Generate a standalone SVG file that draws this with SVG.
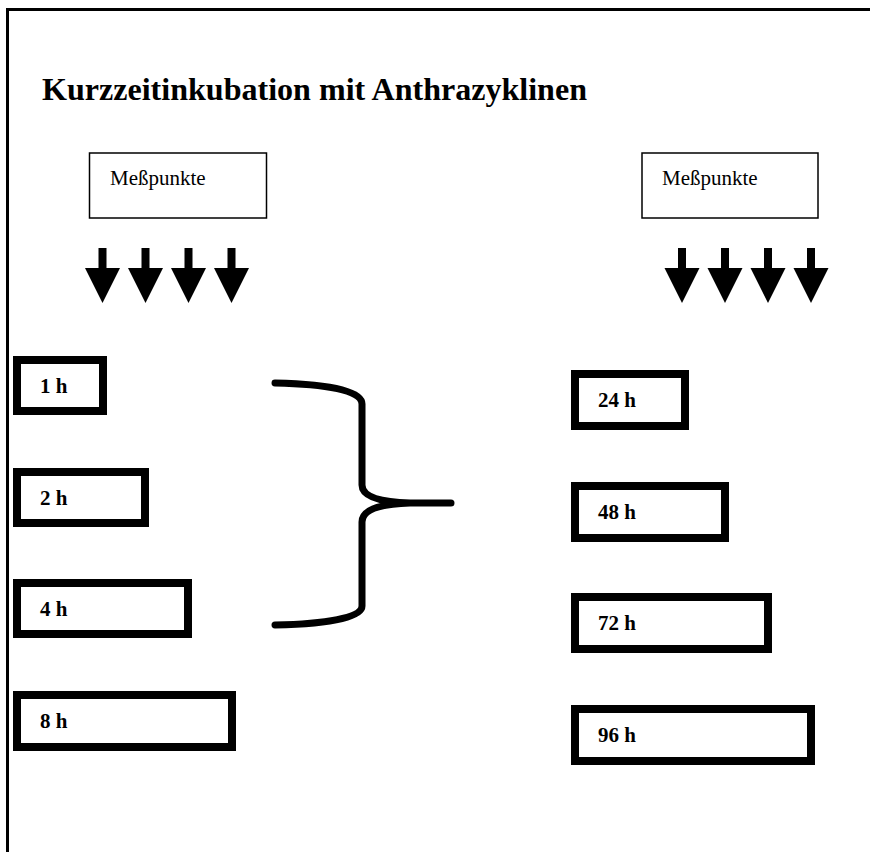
<svg xmlns="http://www.w3.org/2000/svg" width="870" height="852" viewBox="0 0 870 852">
<style>
.frame{fill:none;stroke:#000;stroke-width:3}
.mp{fill:#fff;stroke:#000;stroke-width:1.5}
.mpt{font-family:"Liberation Serif","Times New Roman",serif;font-size:21px;fill:#000}
.tb{fill:#fff;stroke:#000;stroke-width:8}
.tt{font-family:"Liberation Serif","Times New Roman",serif;font-size:21px;font-weight:bold;fill:#000}
.title{font-family:"Liberation Serif","Times New Roman",serif;font-size:31px;font-weight:bold;fill:#000}
.brace{fill:none;stroke:#000;stroke-width:7;stroke-linecap:round;stroke-linejoin:round}
</style>
<defs>
<path id="arr" d="M-4,0 L4,0 L4,20 L17.5,20 L0,55 L-17.5,20 L-4,20 Z" fill="#000"/>
</defs>
<rect width="870" height="852" fill="#fff"/>
<polyline class="frame" points="7.5,852 7.5,9.5 870,9.5"/>
<text class="title" x="42" y="100" textLength="545" lengthAdjust="spacingAndGlyphs">Kurzzeitinkubation mit Anthrazyklinen</text>

<g id="messpunkte-left">
<rect class="mp" x="89.5" y="153" width="177" height="65"/>
<text class="mpt" x="110" y="185">Meßpunkte</text>
</g>
<g id="messpunkte-right">
<rect class="mp" x="642" y="153" width="176" height="65"/>
<text class="mpt" x="662" y="185">Meßpunkte</text>
</g>

<g id="arrows-left">
<use href="#arr" x="102.5" y="248"/>
<use href="#arr" x="145.5" y="248"/>
<use href="#arr" x="188.5" y="248"/>
<use href="#arr" x="231.5" y="248"/>
</g>
<g id="arrows-right">
<use href="#arr" x="682" y="248"/>
<use href="#arr" x="725" y="248"/>
<use href="#arr" x="768" y="248"/>
<use href="#arr" x="811" y="248"/>
</g>

<g id="box-1h"><rect class="tb" x="17" y="360" width="86" height="51"/><text class="tt" x="40" y="393">1 h</text></g>
<g id="box-2h"><rect class="tb" x="17" y="472" width="128" height="51"/><text class="tt" x="40" y="505">2 h</text></g>
<g id="box-4h"><rect class="tb" x="17" y="583" width="171" height="51"/><text class="tt" x="40" y="616">4 h</text></g>
<g id="box-8h"><rect class="tb" x="17" y="695" width="215" height="52"/><text class="tt" x="40" y="728">8 h</text></g>

<g id="box-24h"><rect class="tb" x="575" y="374" width="110" height="52"/><text class="tt" x="598" y="407">24 h</text></g>
<g id="box-48h"><rect class="tb" x="575" y="486" width="150" height="52"/><text class="tt" x="598" y="519">48 h</text></g>
<g id="box-72h"><rect class="tb" x="575" y="597" width="193" height="52"/><text class="tt" x="598" y="630">72 h</text></g>
<g id="box-96h"><rect class="tb" x="575" y="709" width="236" height="52"/><text class="tt" x="598" y="742">96 h</text></g>

<g id="connectors">
<path class="brace" d="M275,383 C325,384 362,390 362,404 L362,485 C362,496 378,502 410,503 L451,503 L410,503 C378,504 362,510 362,522 L362,606 C362,618 325,624 275,625"/>
</g>
</svg>
